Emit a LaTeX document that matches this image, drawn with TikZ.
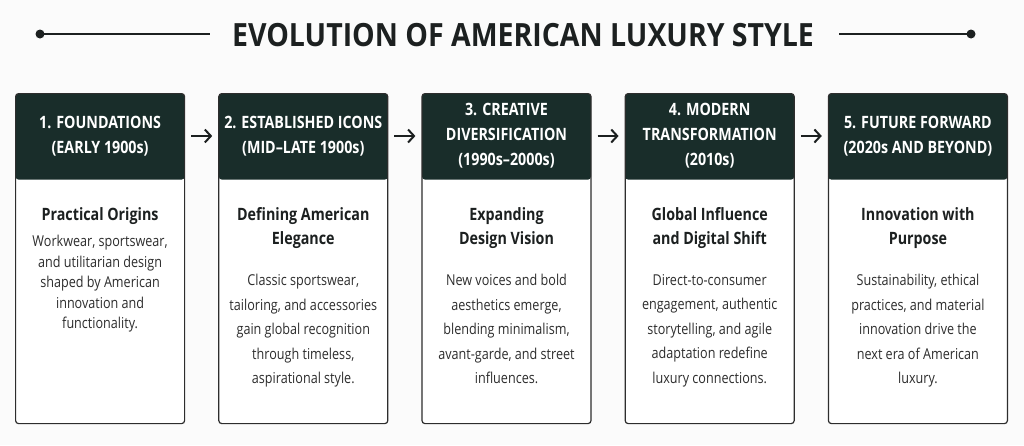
\documentclass[tikz,border=0pt]{standalone}
\usepackage{fontspec}
\setmainfont{Open Sans}[FakeStretch=0.84]
\newfontfamily\titlefont{Open Sans}[FakeStretch=0.89]
\usetikzlibrary{positioning,calc,arrows.meta}
\usepackage{xcolor}
\definecolor{headgreen}{RGB}{25,45,42}
\definecolor{inkdark}{RGB}{28,32,32}
\definecolor{bodygray}{RGB}{45,45,45}
\definecolor{pagebg}{RGB}{251,251,251}

\begin{document}
\begin{tikzpicture}[
    x=1pt, y=-1pt,
    card/.style={draw=bodygray, line width=1.2pt, rounded corners=3pt, fill=white, inner sep=0pt,
        minimum width=169pt, minimum height=330pt, anchor=north west,
        path picture={\fill[headgreen] (path picture bounding box.north west) rectangle ([yshift=-86pt]path picture bounding box.north east);}},
    headtext/.style={text=white, inner sep=0pt, align=center, font=\fontsize{17}{25}\selectfont\bfseries},
    subtext/.style={text=inkdark, inner sep=0pt, align=center, anchor=north, font=\fontsize{17}{24}\selectfont\bfseries},
    bodytext/.style={text=bodygray, inner sep=0pt, align=center, anchor=north, font=\fontsize{15}{24.5}\selectfont},
    arrow/.style={line width=2pt, draw=inkdark, -{Straight Barb[length=6pt,width=13pt]}, shorten <=6pt, shorten >=6pt},
    rule/.style={line width=2.6pt, draw=inkdark}
]

\fill[pagebg] (0,0) rectangle (1024,445);
\useasboundingbox (0,0) rectangle (1024,445);

% Title with side rules
\node[text=inkdark, inner sep=0pt, font=\titlefont\fontsize{32}{32}\selectfont\bfseries] (title) at (523,35) {EVOLUTION OF AMERICAN LUXURY STYLE};
\coordinate (ldot) at (40,34);
\coordinate (lend) at (210,34);
\coordinate (rend) at (839,34);
\coordinate (rdot) at (971,34);
\draw[rule] (ldot) -- (lend);
\draw[rule] (rend) -- (rdot);
\fill[inkdark] (ldot) circle (4.5);
\fill[inkdark] (rdot) circle (4.5);

% Define the five cards
\node[card] (card1) at (15,93) {};
\node[card, right=33pt of card1] (card2) {};
\node[card, right=33pt of card2] (card3) {};
\node[card, right=33pt of card3] (card4) {};
\node[card, right=33pt of card4, minimum width=179pt] (card5) {};

% Header texts
\node[headtext] (head1) at ($(card1.north)+(0,43)$) {1. FOUNDATIONS\\(EARLY 1900s)};
\node[headtext] (head2) at ($(card2.north)+(0,43)$) {2. ESTABLISHED ICONS\\(MID--LATE 1900s)};
\node[headtext] (head3) at ($(card3.north)+(0,43)$) {3. CREATIVE\\DIVERSIFICATION\\(1990s--2000s)};
\node[headtext] (head4) at ($(card4.north)+(0,43)$) {4. MODERN\\TRANSFORMATION\\(2010s)};
\node[headtext] (head5) at ($(card5.north)+(0,43)$) {5. FUTURE FORWARD\\(2020s AND BEYOND)};

% Subtitles
\node[subtext] (sub1) at ($(card1.north)+(0,114)$) {Practical Origins};
\node[subtext] (sub2) at ($(card2.north)+(0,114)$) {Defining American\\Elegance};
\node[subtext] (sub3) at ($(card3.north)+(0,114)$) {Expanding\\Design Vision};
\node[subtext] (sub4) at ($(card4.north)+(0,114)$) {Global Influence\\and Digital Shift};
\node[subtext] (sub5) at ($(card5.north)+(0,114)$) {Innovation with\\Purpose};

% Descriptions
\node[bodytext, font=\fontsize{15}{20.5}\selectfont] (text1) at ($(card1.north)+(0,142)$) {Workwear, sportswear,\\and utilitarian design\\shaped by American\\innovation and\\functionality.};
\node[bodytext] (text2) at ($(card2.north)+(0,181)$) {Classic sportswear,\\tailoring, and accessories\\gain global recognition\\through timeless,\\aspirational style.};
\node[bodytext] (text3) at ($(card3.north)+(0,181)$) {New voices and bold\\aesthetics emerge,\\blending minimalism,\\avant-garde, and street\\influences.};
\node[bodytext] (text4) at ($(card4.north)+(0,181)$) {Direct-to-consumer\\engagement, authentic\\storytelling, and agile\\adaptation redefine\\luxury connections.};
\node[bodytext] (text5) at ($(card5.north)+(0,181)$) {Sustainability, ethical\\practices, and material\\innovation drive the\\next era of American\\luxury.};

% Connect the cards
\draw[arrow] (card1.east |- head1) -- (card2.west |- head1);
\draw[arrow] (card2.east |- head2) -- (card3.west |- head2);
\draw[arrow] (card3.east |- head3) -- (card4.west |- head3);
\draw[arrow] (card4.east |- head4) -- (card5.west |- head4);

\end{tikzpicture}
\end{document}
